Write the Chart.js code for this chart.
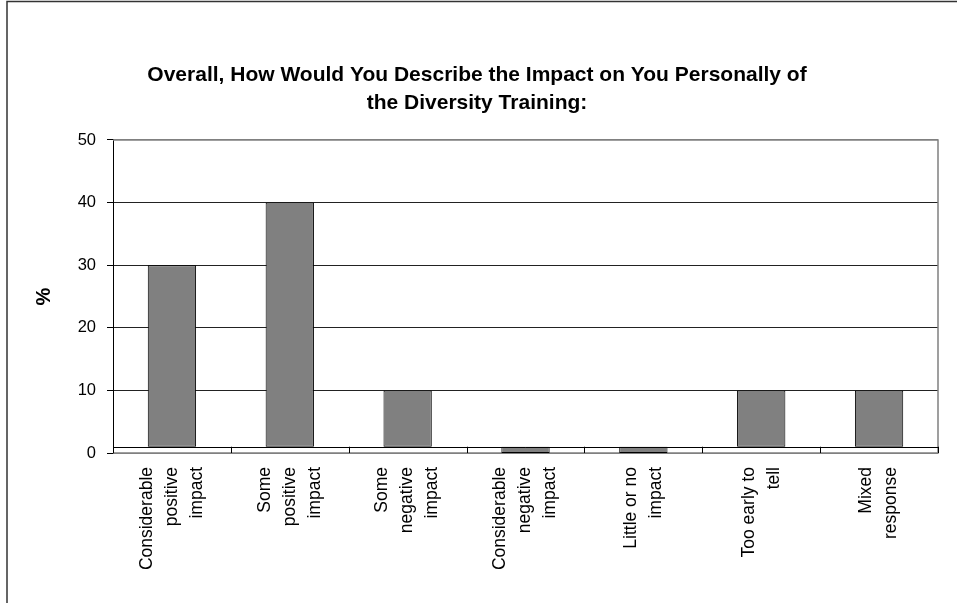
<html>
<head>
  <script src="https://cdn.jsdelivr.net/npm/chart.js"></script>
  <style>
    body { margin: 0; background: #fff; }
    #wrap { width: 957px; height: 603px; }
  </style>
</head>
<body>
<div id="wrap"><canvas id="myChart"></canvas></div>
<script>
  // data
  const categories = [
    ['Considerable', 'positive', 'impact'],
    ['Some', 'positive', 'impact'],
    ['Some', 'negative', 'impact'],
    ['Considerable', 'negative', 'impact'],
    ['Little or no', 'impact'],
    ['Too early to', 'tell'],
    ['Mixed', 'response']
  ];
  const percent = [30, 40, 10, 0, 0, 10, 10];
  const yTicks = [0, 10, 20, 30, 40, 50];
  const axisCrossing = 1; // the category axis crosses the value axis at 1

  const labelFont = '17.5px "Liberation Sans", Arial, sans-serif';

  // frame, plot border, category axis line and the rotated category labels
  const decor = {
    id: 'decor',
    beforeDraw(chart) {
      const ctx = chart.ctx;
      ctx.save();
      ctx.fillStyle = '#fff';
      ctx.fillRect(0, 0, chart.width, chart.height);
      ctx.strokeStyle = '#333';
      ctx.lineWidth = 1.5;
      ctx.beginPath();
      ctx.moveTo(7, chart.height);
      ctx.lineTo(7, 1.5);
      ctx.lineTo(chart.width, 1.5);
      ctx.stroke();
      ctx.restore();
    },
    beforeDatasetsDraw(chart) {
      const a = chart.chartArea, ctx = chart.ctx;
      ctx.save();
      ctx.strokeStyle = '#808080';
      ctx.lineWidth = 1.5;
      ctx.beginPath();
      ctx.moveTo(a.left, a.top);
      ctx.lineTo(a.right, a.top);
      ctx.lineTo(a.right, a.bottom);
      ctx.lineTo(a.left, a.bottom);
      ctx.stroke();
      ctx.restore();
    },
    afterDatasetsDraw(chart) {
      const a = chart.chartArea, ctx = chart.ctx;
      const x = chart.scales.x, y = chart.scales.y;
      const yc = y.getPixelForValue(axisCrossing);
      const y0 = y.getPixelForValue(0);
      ctx.save();
      ctx.strokeStyle = '#000';
      ctx.lineWidth = 1;
      ctx.beginPath();
      ctx.moveTo(a.left, Math.round(yc) + 0.5);
      ctx.lineTo(a.right, Math.round(yc) + 0.5);
      for (let i = 0; i <= categories.length; i++) {
        const px = Math.round(x.getPixelForValue(i - 0.5)) + 0.5;
        ctx.moveTo(px, yc);
        ctx.lineTo(px, y0);
      }
      ctx.stroke();
      ctx.restore();
    },
    afterDraw(chart) {
      const ctx = chart.ctx, x = chart.scales.x;
      const top = chart.chartArea.bottom + 14;
      const lh = 25;
      ctx.save();
      ctx.font = labelFont;
      ctx.fillStyle = '#000';
      ctx.textAlign = 'right';
      ctx.textBaseline = 'middle';
      chart.data.labels.forEach((lines, i) => {
        const px = x.getPixelForValue(i);
        lines.forEach((line, j) => {
          ctx.save();
          ctx.translate(px + (j - (lines.length - 1) / 2) * lh, top);
          ctx.rotate(-Math.PI / 2);
          ctx.fillText(line, 0, 0);
          ctx.restore();
        });
      });
      ctx.restore();
    }
  };

  new Chart(document.getElementById('myChart'), {
    type: 'bar',
    data: {
      labels: categories,
      datasets: [{
        data: percent,
        base: axisCrossing,
        backgroundColor: '#808080',
        borderColor: '#000',
        borderWidth: 1,
        borderSkipped: false,
        barPercentage: 0.41,
        categoryPercentage: 1
      }]
    },
    options: {
      responsive: true,
      maintainAspectRatio: false,
      animation: false,
      layout: { padding: { left: 16, right: 19, top: 0, bottom: 142 } },
      plugins: {
        legend: { display: false },
        tooltip: { enabled: false },
        title: {
          display: true,
          text: ['Overall, How Would You Describe the Impact on You Personally of', 'the Diversity Training:'],
          color: '#000',
          font: { family: '"Liberation Sans", Arial, sans-serif', size: 21, weight: 'bold', lineHeight: 1.333 },
          padding: { top: 61, bottom: 23 }
        }
      },
      scales: {
        x: {
          offset: true,
          grid: { display: false },
          border: { display: false },
          ticks: { display: false }
        },
        y: {
          min: yTicks[0],
          max: yTicks[yTicks.length - 1],
          afterFit: s => { s.width = 97; },
          afterBuildTicks: s => { s.ticks = yTicks.map(v => ({ value: v })); },
          border: { color: '#000', width: 1 },
          grid: {
            color: c => (c.tick && (c.tick.value === 50 || c.tick.value === 0)) ? '#808080' : '#222',
            lineWidth: 1,
            tickLength: 6,
            tickColor: '#000'
          },
          ticks: {
            color: '#000',
            padding: 11,
            font: { family: '"Liberation Sans", Arial, sans-serif', size: 16.5 }
          },
          title: {
            display: true,
            text: '%',
            color: '#000',
            font: { family: '"Liberation Sans", Arial, sans-serif', size: 20, weight: 'bold', lineHeight: 1.2 },
            padding: { top: 16, bottom: 0 }
          }
        }
      }
    },
    plugins: [decor]
  });
</script>
</body>
</html>
